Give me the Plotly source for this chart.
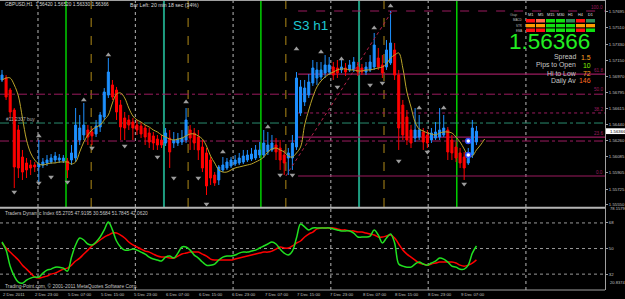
import plotly.graph_objects as go

# ---------------- data (GBPUSD H1) ----------------
opens = [1.56932,1.56954,1.56821,1.56600,1.56379,1.56080,1.56014,1.55992,1.55992,1.55970,
         1.55992,1.56014,1.56025,1.56047,1.56047,1.56036,1.56036,1.56047,1.56069,1.56268,
         1.56324,1.56379,1.56357,1.56335,1.56412,1.56523,1.56766,1.56877,1.56821,1.56655,
         1.56512,1.56490,1.56467,1.56434,1.56423,1.56401,1.56346,1.56313,1.56279,1.56268,
         1.56235,1.56290,1.56235,1.56235,1.56246,1.56268,1.56379,1.56346,1.56301,1.56191,
         1.56125,1.56047,1.55881,1.55826,1.55937,1.55959,1.55981,1.56003,1.56014,1.56025,
         1.56047,1.56058,1.56069,1.56102,1.56102,1.56136,1.56158,1.56213,1.56180,1.56102,
         1.56069,1.56069,1.56191,1.56567,1.56689,1.56766,1.56899,1.56954,1.56965,1.57009,
         1.57020,1.57076,1.57065,1.57043,1.57065,1.57043,1.57043,1.57076,1.57065,1.57020,
         1.57043,1.57076,1.57175,1.57098,1.57076,1.57120,1.57264,1.56987,1.56655,1.56523,
         1.56379,1.56290,1.56301,1.56357,1.56324,1.56268,1.56290,1.56301,1.56324,1.56379,
         1.56268,1.56191,1.56125,1.56080,1.56014,1.56102,1.56246]
highs = [1.57043,1.56987,1.56843,1.56622,1.56434,1.56158,1.56069,1.56047,1.56025,1.56268,
         1.56069,1.56102,1.56113,1.56136,1.56113,1.56102,1.56069,1.56213,1.56622,1.56545,
         1.56678,1.56434,1.56401,1.56490,1.56578,1.56843,1.57175,1.56932,1.56855,1.56711,
         1.56578,1.56545,1.56512,1.56490,1.56467,1.56434,1.56401,1.56357,1.56324,1.56324,
         1.56401,1.56379,1.56357,1.56346,1.56379,1.56622,1.56434,1.56401,1.56379,1.56268,
         1.56180,1.56080,1.55914,1.55992,1.56080,1.56069,1.56080,1.56102,1.56125,1.56158,
         1.56158,1.56180,1.56213,1.56246,1.56379,1.56357,1.56324,1.56290,1.56268,1.56158,
         1.56180,1.56324,1.57020,1.56932,1.56932,1.56998,1.57153,1.57131,1.57131,1.57208,
         1.57186,1.57131,1.57153,1.57153,1.57120,1.57153,1.57186,1.57131,1.57109,1.57131,
         1.57208,1.57452,1.57286,1.57208,1.57374,1.57695,1.57341,1.57043,1.56711,1.56600,
         1.56434,1.56622,1.56545,1.56401,1.56379,1.56401,1.56467,1.56622,1.56545,1.56412,
         1.56324,1.56246,1.56180,1.56136,1.56180,1.56490,1.56423]
lows = [1.56910,1.56711,1.56512,1.55737,1.55848,1.55826,1.55848,1.55881,1.55914,1.55793,
        1.55959,1.55981,1.56003,1.56014,1.56014,1.56014,1.55848,1.55992,1.56025,1.56213,
        1.56268,1.56213,1.56213,1.56301,1.56357,1.56490,1.56733,1.56711,1.56490,1.56268,
        1.56268,1.56379,1.56268,1.56324,1.56290,1.56213,1.56180,1.56158,1.56158,1.56180,
        1.56202,1.55959,1.56180,1.56202,1.56213,1.56235,1.56158,1.56158,1.56047,1.55914,
        1.55660,1.55771,1.55760,1.55771,1.55914,1.55937,1.55959,1.55981,1.55992,1.56003,
        1.56025,1.56036,1.56047,1.56069,1.56069,1.56102,1.56136,1.56047,1.55937,1.55881,
        1.55881,1.55937,1.56158,1.56534,1.56644,1.56733,1.56866,1.56877,1.56932,1.56954,
        1.56987,1.56932,1.56954,1.57009,1.56976,1.57020,1.57020,1.56976,1.56987,1.56987,
        1.57020,1.57043,1.57043,1.56954,1.57043,1.57098,1.56932,1.56158,1.56268,1.56213,
        1.56180,1.56246,1.56268,1.56158,1.56180,1.56235,1.56268,1.56268,1.56301,1.56047,
        1.56047,1.56025,1.55959,1.55826,1.55992,1.56069,1.56213]
closes = [1.56987,1.56744,1.56578,1.55970,1.55959,1.55914,1.55937,1.55959,1.55970,1.56003,
          1.56025,1.56047,1.56069,1.56091,1.56069,1.56069,1.55937,1.56125,1.56434,1.56401,
          1.56434,1.56301,1.56313,1.56423,1.56545,1.56799,1.57020,1.56744,1.56578,1.56412,
          1.56401,1.56434,1.56401,1.56379,1.56335,1.56301,1.56246,1.56235,1.56213,1.56213,
          1.56346,1.56136,1.56268,1.56279,1.56290,1.56490,1.56290,1.56235,1.56158,1.55959,
          1.55760,1.55848,1.55793,1.55970,1.55992,1.56025,1.56047,1.56047,1.56069,1.56091,
          1.56102,1.56113,1.56158,1.56158,1.56235,1.56213,1.56235,1.56136,1.56047,1.56014,
          1.56125,1.56235,1.56954,1.56855,1.56843,1.56910,1.57065,1.57043,1.57043,1.57098,
          1.57098,1.56987,1.57009,1.57076,1.57020,1.57098,1.57131,1.57020,1.57020,1.57076,
          1.57131,1.57319,1.57076,1.57009,1.57264,1.57341,1.56987,1.56401,1.56324,1.56268,
          1.56235,1.56379,1.56379,1.56246,1.56235,1.56346,1.56357,1.56379,1.56401,1.56136,
          1.56125,1.56069,1.56014,1.55959,1.56125,1.56401,1.56366]
ma_line = [1.56932,1.56954,1.56954,1.56877,1.56755,1.56512,1.56268,1.56125,1.56047,1.56003,
           1.55992,1.56003,1.56014,1.56014,1.56025,1.56025,1.56025,1.56003,1.56025,1.56136,
           1.56246,1.56324,1.56379,1.56412,1.56434,1.56490,1.56545,1.56678,1.56777,1.56788,
           1.56733,1.56622,1.56534,1.56490,1.56467,1.56434,1.56412,1.56379,1.56357,1.56324,
           1.56301,1.56279,1.56268,1.56279,1.56290,1.56313,1.56335,1.56335,1.56313,1.56279,
           1.56202,1.56091,1.56014,1.55937,1.55914,1.55914,1.55937,1.55959,1.55970,1.55981,
           1.55992,1.56003,1.56025,1.56047,1.56080,1.56136,1.56169,1.56180,1.56158,1.56136,
           1.56091,1.56080,1.56125,1.56191,1.56434,1.56600,1.56744,1.56855,1.56921,1.56965,
           1.56998,1.57020,1.57043,1.57054,1.57054,1.57043,1.57043,1.57032,1.57032,1.57043,
           1.57043,1.57054,1.57065,1.57076,1.57109,1.57175,1.57208,1.57231,1.57065,1.56799,
           1.56633,1.56467,1.56390,1.56368,1.56346,1.56335,1.56324,1.56346,1.56357,1.56357,
           1.56346,1.56301,1.56246,1.56169,1.56091,1.56091,1.56158,1.56213,1.56279]
tdi_green = [54.6,48.9,37.6,30.6,26.3,25.6,27.8,29.2,29.9,29.9,
             32.7,34.8,35.5,36.9,36.9,36.2,34.1,44.0,52.5,57.4,
             56.0,53.2,52.5,54.6,58.1,63.1,68.7,63.1,55.3,51.1,
             48.9,48.9,49.6,48.9,47.5,46.1,44.0,42.6,41.9,41.2,
             44.0,44.7,43.3,46.8,51.1,51.1,48.9,45.4,43.3,40.5,
             38.3,38.3,39.1,41.9,44.0,44.7,44.7,45.4,46.8,47.5,
             47.5,48.2,48.9,50.4,51.8,53.2,54.6,53.2,49.6,46.8,
             45.4,48.2,57.4,67.3,65.2,63.1,64.5,64.5,64.5,64.5,
             64.5,63.8,63.1,62.4,62.4,62.4,60.9,58.1,58.1,58.1,
             58.8,63.1,59.5,53.9,57.4,60.2,53.9,39.1,37.6,36.9,
             36.9,39.1,40.5,39.1,38.3,39.8,41.2,43.3,42.6,40.5,
             37.6,36.9,35.5,35.5,38.3,46.8,51.78]
tdi_red = [53.9,50.4,47.5,44.7,41.9,38.3,35.5,32.7,29.9,29.2,
           29.9,30.6,32.0,32.7,34.1,35.5,36.2,38.3,41.2,43.3,
           46.1,48.9,51.8,53.9,56.0,58.1,59.5,60.9,60.9,59.5,
           57.4,54.6,52.5,51.1,49.6,48.2,47.5,46.1,44.7,44.0,
           44.0,43.3,43.3,44.7,46.1,46.8,47.5,47.5,47.5,46.1,
           44.7,42.6,41.9,41.9,41.9,41.9,41.9,42.6,43.3,44.0,
           44.7,45.4,46.1,46.8,47.5,47.5,48.2,49.6,51.1,50.4,
           50.4,51.8,53.9,55.3,58.1,60.2,61.6,63.8,64.5,64.5,
           64.5,64.5,63.8,63.1,63.1,62.4,62.4,61.6,61.6,60.9,
           60.2,59.5,58.1,58.1,58.8,59.5,57.4,53.2,48.9,46.1,
           44.0,41.9,39.8,39.1,38.3,39.1,39.8,40.5,40.5,40.5,
           40.5,39.8,38.3,37.6,38.3,39.8,42.06]
frac_up_bar = [9, 20, 26, 45, 54, 65, 72, 78, 83, 91, 95, 102, 108]
frac_up_price = [1.56313,1.56711,1.57208,1.56689,1.56136,1.56412,1.57275,1.57242,1.57164,1.57508,1.57750,1.56622,1.56622]
frac_dn_bar = [3, 9, 12, 16, 22, 30, 38, 42, 48, 50, 68, 71, 82, 90, 93, 97, 104, 113]
frac_dn_price = [1.55693,1.55793,1.55859,1.55804,1.56180,1.56202,1.56080,1.55848,1.55848,1.55561,
                 1.55881,1.55881,1.56855,1.56877,1.56899,1.56036,1.56136,1.55782]
order_bar = [114, 114]
order_price = [1.56257, 1.56102]

x_labels = ["2 Dec 2011", "2 Dec 23:00", "5 Dec 07:00", "5 Dec 15:00", "5 Dec 23:00",
            "6 Dec 07:00", "6 Dec 15:00", "6 Dec 23:00", "7 Dec 07:00", "7 Dec 15:00",
            "7 Dec 23:00", "8 Dec 07:00", "8 Dec 15:00", "8 Dec 23:00", "9 Dec 07:00"]
x_label_bars = [0, 8, 16, 24, 32, 40, 48, 56, 64, 72, 80, 88, 96, 104, 112]
price_ticks = [1.57695, 1.57510, 1.57330, 1.57150, 1.56970, 1.56795, 1.56615,
               1.56440, 1.56260, 1.56085, 1.55905, 1.55725, 1.55550]
tdi_levels = [32, 50, 68]
tdi_max, tdi_min = 78.1579, 20.8374
fib_low, fib_high = 1.55870, 1.57695
fib_ratios = [0.0, 23.6, 38.2, 61.8, 100.0]
fib_styles = ["solid", "solid", "dot", "solid", "dash"]
pivot_lines = [1.56775, 1.56257]
pivot_labels = ["50.0", ""]
order_line = 1.56456
green_lines = [15.65, 63.3, 111.2]
teal_lines = [39.6, 87.3]
orange_lines = [21.8, 45.5, 69.4, 93.4]
grid_lines = [8.8, 32.6, 56.5, 80.4, 104.2, 128.1]
fib_start_bar = 72.4
trend_bars = [69.4, 95.4]
trend_prices = [1.55870, 1.57695]
last_price = 1.56366

tf_names = ["M1", "M5", "M15", "M30", "H1", "H4", "D1"]
row_names = ["MACD", "STR", "EMA"]
R, S, G, D, O = "#FF1010", "#FF6A4A", "#10E010", "#2E8B57", "#FF9A00"
cell_colors = [[R, S, G, G, D, R, D],
               [O, O, G, G, G, O, O],
               [R, R, G, G, G, R, G]]
info_labels = ["Spread", "Pips to Open", "Hi to Low", "Daily Av"]
info_values = ["1.5", "10", "72", "146"]
info_colors = ["#FFA020", "#80F000", "#FFA020", "#FF6A20"]

# ---------------- layout helpers ----------------
W, H = 625, 299
PLOT_R = 605
X0_PX, BAR_PX = 2.0, 4.09
xmin = (0 - X0_PX) / BAR_PX
xmax = (PLOT_R - X0_PX) / BAR_PX
MAIN_BOT = 207
SUB_TOP, SUB_BOT = 208.5, 290
main_range = [1.555273, 1.578167]

def pxx(p):
    return p / W

def pxy(p):
    return 1 - p / H

FONT = "Liberation Sans, Arial, sans-serif"
MAG = "#9B1B5F"
GRAY = "#C0C0C0"

fig = go.Figure()

fig.add_trace(go.Candlestick(
    x=list(range(len(opens))), open=opens, high=highs, low=lows, close=closes,
    increasing=dict(line=dict(color="#1E90FF", width=1), fillcolor="#1E90FF"),
    decreasing=dict(line=dict(color="#FF0000", width=1), fillcolor="#FF0000"),
    whiskerwidth=0, xaxis="x", yaxis="y", hoverinfo="skip"))

fig.add_trace(go.Scatter(x=list(range(len(ma_line))), y=ma_line, mode="lines",
                         line=dict(color="#BBA52A", width=1, shape="spline"),
                         xaxis="x", yaxis="y", hoverinfo="skip"))

fig.add_trace(go.Scatter(x=frac_up_bar, y=frac_up_price, mode="markers",
                         marker=dict(symbol="triangle-up", size=5, color="#9C9C9C"),
                         xaxis="x", yaxis="y", hoverinfo="skip"))
fig.add_trace(go.Scatter(x=frac_dn_bar, y=frac_dn_price, mode="markers",
                         marker=dict(symbol="triangle-down", size=5, color="#9C9C9C"),
                         xaxis="x", yaxis="y", hoverinfo="skip"))
fig.add_trace(go.Scatter(x=order_bar, y=order_price, mode="markers",
                         marker=dict(symbol="circle", size=5, color="white",
                                     line=dict(color="#3050FF", width=1.5)),
                         xaxis="x", yaxis="y", hoverinfo="skip"))
fig.add_trace(go.Scatter(x=trend_bars, y=trend_prices, mode="lines",
                         line=dict(color="#B8204A", width=1, dash="dot"),
                         xaxis="x", yaxis="y", hoverinfo="skip"))

fig.add_trace(go.Scatter(x=list(range(len(tdi_red))), y=tdi_red, mode="lines",
                         line=dict(color="#FF0000", width=1.5, shape="spline"),
                         xaxis="x2", yaxis="y2", hoverinfo="skip"))
fig.add_trace(go.Scatter(x=list(range(len(tdi_green))), y=tdi_green, mode="lines",
                         line=dict(color="#20E020", width=1.5, shape="spline"),
                         xaxis="x2", yaxis="y2", hoverinfo="skip"))

shapes = []
annotations = []

# vertical grid (dotted) in both panels
for g in grid_lines:
    shapes.append(dict(type="line", xref="x", yref="paper", x0=g, x1=g,
                       y0=pxy(MAIN_BOT), y1=pxy(1), line=dict(color="#B8B8B8", width=1, dash="dot"), layer="below"))
    shapes.append(dict(type="line", xref="x", yref="paper", x0=g, x1=g,
                       y0=pxy(SUB_BOT), y1=pxy(SUB_TOP), line=dict(color="#B8B8B8", width=1, dash="dot"), layer="below"))
for g in orange_lines:
    shapes.append(dict(type="line", xref="x", yref="paper", x0=g, x1=g,
                       y0=pxy(MAIN_BOT), y1=pxy(1), line=dict(color="#B08A18", width=1, dash="dash"), layer="below"))
for g in teal_lines:
    shapes.append(dict(type="line", xref="x", yref="paper", x0=g, x1=g,
                       y0=pxy(MAIN_BOT), y1=pxy(1), line=dict(color="#1E9C80", width=2), layer="below"))
for g in green_lines:
    shapes.append(dict(type="line", xref="x", yref="paper", x0=g, x1=g,
                       y0=pxy(MAIN_BOT), y1=pxy(1), line=dict(color="#00F000", width=1.3), layer="below"))

# horizontal lines
for lvl, lab in zip(pivot_lines, pivot_labels):
    shapes.append(dict(type="line", xref="x", yref="y", x0=xmin, x1=xmax, y0=lvl, y1=lvl,
                       line=dict(color=MAG, width=1, dash="dashdot"), layer="below"))
    if lab:
        annotations.append(dict(x=xmax, y=lvl, xref="x", yref="y", text=lab, showarrow=False,
                                xanchor="right", yanchor="bottom", font=dict(size=4.6, color=MAG, family=FONT)))
shapes.append(dict(type="line", xref="x", yref="y", x0=xmin, x1=xmax, y0=order_line, y1=order_line,
                   line=dict(color="#2A8C6E", width=1, dash="dashdot"), layer="below"))
for r, st in zip(fib_ratios, fib_styles):
    lvl = fib_low + (fib_high - fib_low) * r / 100.0
    shapes.append(dict(type="line", xref="x", yref="y", x0=fib_start_bar, x1=xmax, y0=lvl, y1=lvl,
                       line=dict(color=MAG, width=1.2 if st == "solid" else 1, dash=st), layer="below"))
    annotations.append(dict(x=xmax, y=lvl, xref="x", yref="y", text="%.1f" % r, showarrow=False,
                            xanchor="right", yanchor="bottom", yshift=-1,
                            font=dict(size=4.6, color=MAG, family=FONT)))

# TDI level lines
for lv in tdi_levels:
    shapes.append(dict(type="line", xref="x2", yref="y2", x0=xmin, x1=xmax, y0=lv, y1=lv,
                       line=dict(color="#9A9A9A", width=1, dash="dot"), layer="below"))

# frames / separators
shapes.append(dict(type="line", xref="paper", yref="paper", x0=0, x1=pxx(PLOT_R),
                   y0=pxy(MAIN_BOT + 0.8), y1=pxy(MAIN_BOT + 0.8), line=dict(color="#B4B4B4", width=2)))
shapes.append(dict(type="line", xref="paper", yref="paper", x0=0, x1=pxx(PLOT_R),
                   y0=pxy(SUB_BOT), y1=pxy(SUB_BOT), line=dict(color="#A0A0A0", width=1)))
shapes.append(dict(type="line", xref="paper", yref="paper", x0=0, x1=pxx(PLOT_R),
                   y0=pxy(0.5), y1=pxy(0.5), line=dict(color="#A0A0A0", width=1)))
shapes.append(dict(type="line", xref="paper", yref="paper", x0=pxx(PLOT_R + 0.5), x1=pxx(PLOT_R + 0.5),
                   y0=pxy(0), y1=pxy(SUB_BOT), line=dict(color="#A0A0A0", width=1)))

# current price box
shapes.append(dict(type="rect", xref="paper", yref="y", x0=pxx(PLOT_R + 1), x1=1,
                   y0=last_price - 0.00032, y1=last_price + 0.00032,
                   fillcolor="white", line=dict(width=0)))
annotations.append(dict(x=pxx(PLOT_R + 3), y=last_price, xref="paper", yref="y",
                        text="%.5f" % last_price, showarrow=False, xanchor="left",
                        font=dict(size=4.3, color="black", family=FONT)))

# x-axis labels
for b, t in zip(x_label_bars, x_labels):
    annotations.append(dict(x=b - 0.3, y=pxy(294), xref="x", yref="paper", text=t, showarrow=False,
                            xanchor="left", yanchor="middle", font=dict(size=4.3, color=GRAY, family=FONT)))

# indicator extreme labels
annotations.append(dict(x=pxx(PLOT_R + 3), y=pxy(213), xref="paper", yref="paper", text="%.4f" % tdi_max,
                        showarrow=False, xanchor="left", font=dict(size=4.1, color=GRAY, family=FONT)))
annotations.append(dict(x=pxx(PLOT_R + 3), y=pxy(286.5), xref="paper", yref="paper", text="%.4f" % tdi_min,
                        showarrow=False, xanchor="left", font=dict(size=4.1, color=GRAY, family=FONT)))

# texts
def txt(x, y, s, size, color, anchor="left"):
    annotations.append(dict(x=pxx(x), y=pxy(y), xref="paper", yref="paper", text=s, showarrow=False,
                            xanchor=anchor, yanchor="middle", font=dict(size=size, color=color, family=FONT)))

txt(3, 5, "GBPUSD,H1  1.56420 1.56520 1.56330 1.56366", 4.8, "#D8D8D8")
txt(128, 5, "Bar Left: 20 min 18 sec (34%)", 5.2, "#D8D8D8")
txt(291, 26, "S3 h1", 13.5, "#1EC8D2")
txt(4, 120, "#11 2307 buy", 4.8, "#B0B0B0")
txt(3, 213.5, "Traders Dynamic Index 65.2705 47.9195 30.5684 51.7845 42.0620", 4.8, "#C8C8C8")
txt(3, 286, "Trading-Point.com, © 2001-2011 MetaQuotes Software Corp.", 4.9, "#C8C8C8")

# dashboard
CELL_X0, CELL_W, CELL_STEP = 526, 9, 10
row_y = [(19, 22.5), (24, 27.3), (28.5, 32)]
row_label_y = [20.3, 25.7, 31.0]
txt(513, 15.5, "Gap", 3.8, "#A0A0A0", "center")
for k, name in enumerate(tf_names):
    txt(CELL_X0 + k * CELL_STEP + CELL_W / 2, 15.5, name, 3.8, "#E0E0E0", "center")
for r, name in enumerate(row_names):
    y0, y1 = row_y[r]
    txt(524, row_label_y[r], name, 2.9, "#C0C0C0", "right")
    for k, col in enumerate(cell_colors[r]):
        x0 = CELL_X0 + k * CELL_STEP
        shapes.append(dict(type="rect", xref="paper", yref="paper", x0=pxx(x0), x1=pxx(x0 + CELL_W),
                           y0=pxy(y1), y1=pxy(y0), fillcolor=col, line=dict(width=0)))
txt(592, 41.5, "%.5f" % last_price, 22.5, "#22EE22", "right")
info_y = [57.5, 65.3, 73.1, 80.9]
for lab, val, col, yy in zip(info_labels, info_values, info_colors, info_y):
    txt(578, yy, lab, 6.9, "#C8C8C8", "right")
    txt(592.5, yy, val, 6.9, col, "right")

fig.update_layout(
    width=W, height=H, margin=dict(l=0, r=0, t=0, b=0),
    paper_bgcolor="black", plot_bgcolor="black", showlegend=False, hovermode=False,
    shapes=shapes, annotations=annotations,
    xaxis=dict(domain=[0, pxx(PLOT_R)], range=[xmin, xmax], showgrid=False, zeroline=False,
               showticklabels=False, rangeslider=dict(visible=False), anchor="y"),
    xaxis2=dict(domain=[0, pxx(PLOT_R)], range=[xmin, xmax], showgrid=False, zeroline=False,
                showticklabels=False, anchor="y2"),
    yaxis=dict(domain=[pxy(MAIN_BOT), 1], range=main_range, side="right", showgrid=False, zeroline=False,
               tickvals=price_ticks, ticktext=["%.5f" % v for v in price_ticks],
               tickfont=dict(size=4.3, color=GRAY, family=FONT), ticks="outside", ticklen=2,
               tickcolor="#A0A0A0", anchor="x"),
    yaxis2=dict(domain=[pxy(SUB_BOT), pxy(SUB_TOP)], range=[tdi_min, tdi_max], side="right",
                showgrid=False, zeroline=False, tickvals=tdi_levels, ticktext=[str(v) for v in tdi_levels],
                tickfont=dict(size=4.3, color=GRAY, family=FONT), ticks="outside", ticklen=2,
                tickcolor="#A0A0A0", anchor="x2"),
)

fig.write_html("out.html")
